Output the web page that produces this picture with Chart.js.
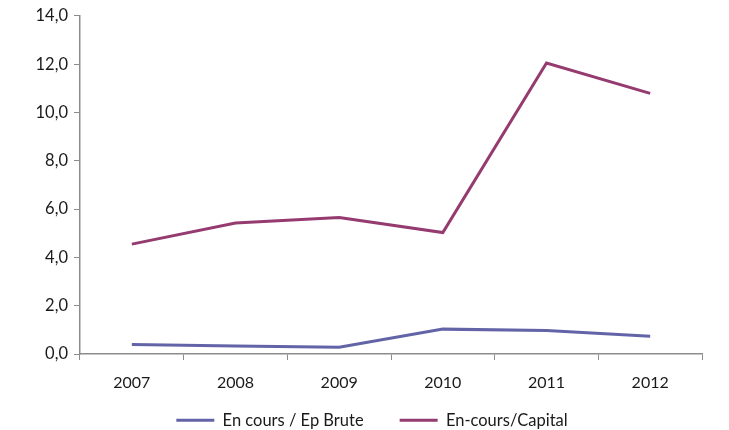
<!DOCTYPE html>
<html>
<head>
<meta charset="utf-8">
<script src="https://cdn.jsdelivr.net/npm/chart.js@4/dist/chart.umd.min.js"></script>
<style>
  body { margin: 0; background: #fff; }
  #wrap { width: 729px; height: 430px; }
</style>
</head>
<body>
<div id="wrap"><canvas id="lineChart"></canvas></div>
<script>
var years = ['2007', '2008', '2009', '2010', '2011', '2012'];
var epBrute = [0.39, 0.33, 0.28, 1.03, 0.97, 0.73];
var capital = [4.55, 5.42, 5.65, 5.03, 12.05, 10.79];
var seriesNames = ['En cours / Ep Brute', 'En-cours/Capital'];

var axisColor = '#8c8c8c';
Chart.defaults.font.family = 'Lato, "Noto Sans", sans-serif';
Chart.defaults.font.size = 16.5;
Chart.defaults.color = '#1a1a1a';

// the legend padding also sets the gap between items, so nudge the box
// after layout instead of living with the big vertical padding
var legendNudge = {
    id: 'legendNudge',
    afterLayout: function(chart) {
    var lg = chart.legend;
    lg.top -= 18; lg.bottom -= 18;
    lg.left += 21; lg.right += 21;
    }
};

var ctx = document.getElementById('lineChart').getContext('2d');
var lineChart = new Chart(ctx, {
    type: 'line',
    data: {
    labels: years,
    datasets: [{
        label: seriesNames[0],
        data: epBrute,
        borderColor: '#6264a7',
        backgroundColor: '#6264a7',
        borderWidth: 3,
        pointRadius: 0,
        tension: 0
    }, {
        label: seriesNames[1],
        data: capital,
        borderColor: '#953b6f',
        backgroundColor: '#953b6f',
        borderWidth: 3,
        pointRadius: 0,
        tension: 0
    }]
    },
    options: {
    responsive: true,
    maintainAspectRatio: false,
    animation: false,
    layout: {
        padding: { top: 15, right: 27, bottom: -26.5, left: 0 }
    },
    scales: {
        x: {
        offset: true,
        grid: {
            offset: true,
            drawOnChartArea: false,
            color: axisColor,
            tickLength: 6
        },
        border: { color: axisColor, width: 1.5 },
        ticks: { padding: 13, font: { size: 16 } },
        afterFit: function(scale) { scale.height = 40; }
        },
        y: {
        min: 0,
        max: 14,
        ticks: {
            stepSize: 2,
            padding: 6,
            callback: function(value) {
            return value.toFixed(1).replace('.', ',');
            }
        },
        grid: {
            drawOnChartArea: false,
            color: axisColor,
            tickLength: 6
        },
        border: { color: axisColor, width: 1.5 },
        afterFit: function(scale) { scale.width = 80; }
        }
    },
    plugins: {
        legend: {
        display: true,
        position: 'bottom',
        labels: {
            usePointStyle: true,
            pointStyle: 'line',
            pointStyleWidth: 38,
            padding: 36
        }
        },
        tooltip: { enabled: false }
    }
    },
    plugins: [legendNudge]
});
</script>
</body>
</html>
